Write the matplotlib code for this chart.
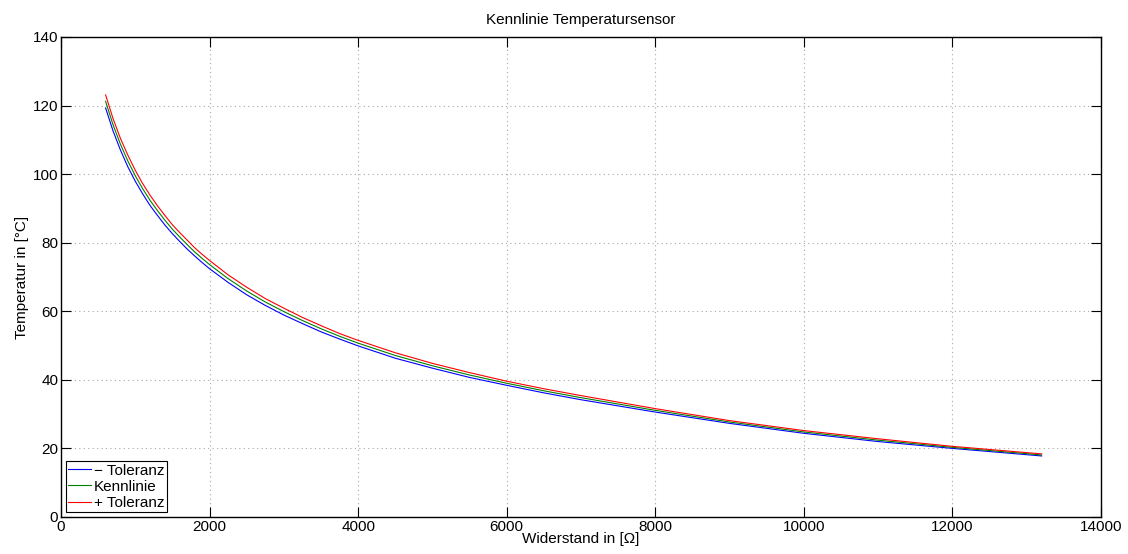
import matplotlib
matplotlib.use("Agg")
import matplotlib.pyplot as plt

# Widerstand in Ohm
widerstand = [600, 700, 800, 900, 1000, 1100, 1200, 1300, 1400, 1500, 1600, 1700, 1800,
              1900, 2000, 2250, 2500, 2750, 3000, 3250, 3500, 3750, 4000, 4500, 5000,
              5500, 6000, 6500, 7000, 8000, 9000, 10000, 11000, 12000, 13200]

# Temperatur in degC
kennlinie = [121.2, 114.4, 108.7, 103.8, 99.5, 95.7, 92.3, 89.3, 86.5, 83.9, 81.6, 79.4, 77.3,
             75.4, 73.6, 69.5, 65.9, 62.7, 59.9, 57.3, 54.9, 52.7, 50.7, 47.1, 44.1,
             41.4, 39.0, 36.8, 34.8, 31.1, 27.7, 24.8, 22.4, 20.3, 18.1]
plus_tol = [123.1, 116.2, 110.4, 105.5, 101.1, 97.2, 93.8, 90.7, 87.9, 85.2, 82.9, 80.7, 78.5,
            76.6, 74.8, 70.6, 67.0, 63.7, 60.9, 58.2, 55.8, 53.5, 51.5, 47.9, 44.8,
            42.1, 39.6, 37.4, 35.4, 31.6, 28.1, 25.2, 22.8, 20.6, 18.4]
minus_tol = [119.3, 112.6, 107.0, 102.1, 97.9, 94.2, 90.8, 87.9, 85.1, 82.6, 80.3, 78.1, 76.1,
             74.2, 72.4, 68.4, 64.8, 61.7, 58.9, 56.4, 54.0, 51.9, 49.9, 46.3, 43.4,
             40.7, 38.4, 36.2, 34.2, 30.6, 27.3, 24.4, 22.0, 20.0, 17.8]

plt.rcParams['font.family'] = ['Liberation Sans', 'DejaVu Sans']
plt.rcParams['font.size'] = 11

fig = plt.figure(figsize=(11.28, 5.54), dpi=100)
ax = fig.add_axes([0.0541, 0.0668, 0.9220, 0.8665])

ax.plot(widerstand, minus_tol, color='#0000ff', lw=0.8, label='\u2212 Toleranz')
ax.plot(widerstand, kennlinie, color='#008000', lw=0.8, label='Kennlinie')
ax.plot(widerstand, plus_tol, color='#ff0000', lw=0.8, label='+ Toleranz')

ax.set_xlim(0, 14000)
ax.set_ylim(0, 140)
ax.set_xticks(range(0, 14001, 2000))
ax.set_yticks(range(0, 141, 20))
ax.grid(True, linestyle=(0, (1, 3)), color='#a8a8a8', linewidth=0.8)
ax.tick_params(direction='in', length=7, width=0.8, top=True, right=True, labelsize=11, pad=2)
for s in ax.spines.values():
    s.set_linewidth(1.0)

ax.set_title('Kennlinie Temperatursensor', fontsize=11, pad=9)
ax.set_xlabel('Widerstand in [\u03a9]', fontsize=11, labelpad=-1)
ax.set_ylabel('Temperatur in [\u00b0C]', fontsize=11, labelpad=3)

leg = ax.legend(loc='lower left', fancybox=False, edgecolor='black', framealpha=1,
                handlelength=1.5, handletextpad=0.2, borderpad=0.15, labelspacing=0.15,
                borderaxespad=0.3, fontsize=11)
leg.get_frame().set_linewidth(0.8)
for line in leg.get_lines():
    line.set_linewidth(0.8)

plt.savefig('out.png', dpi=100)
